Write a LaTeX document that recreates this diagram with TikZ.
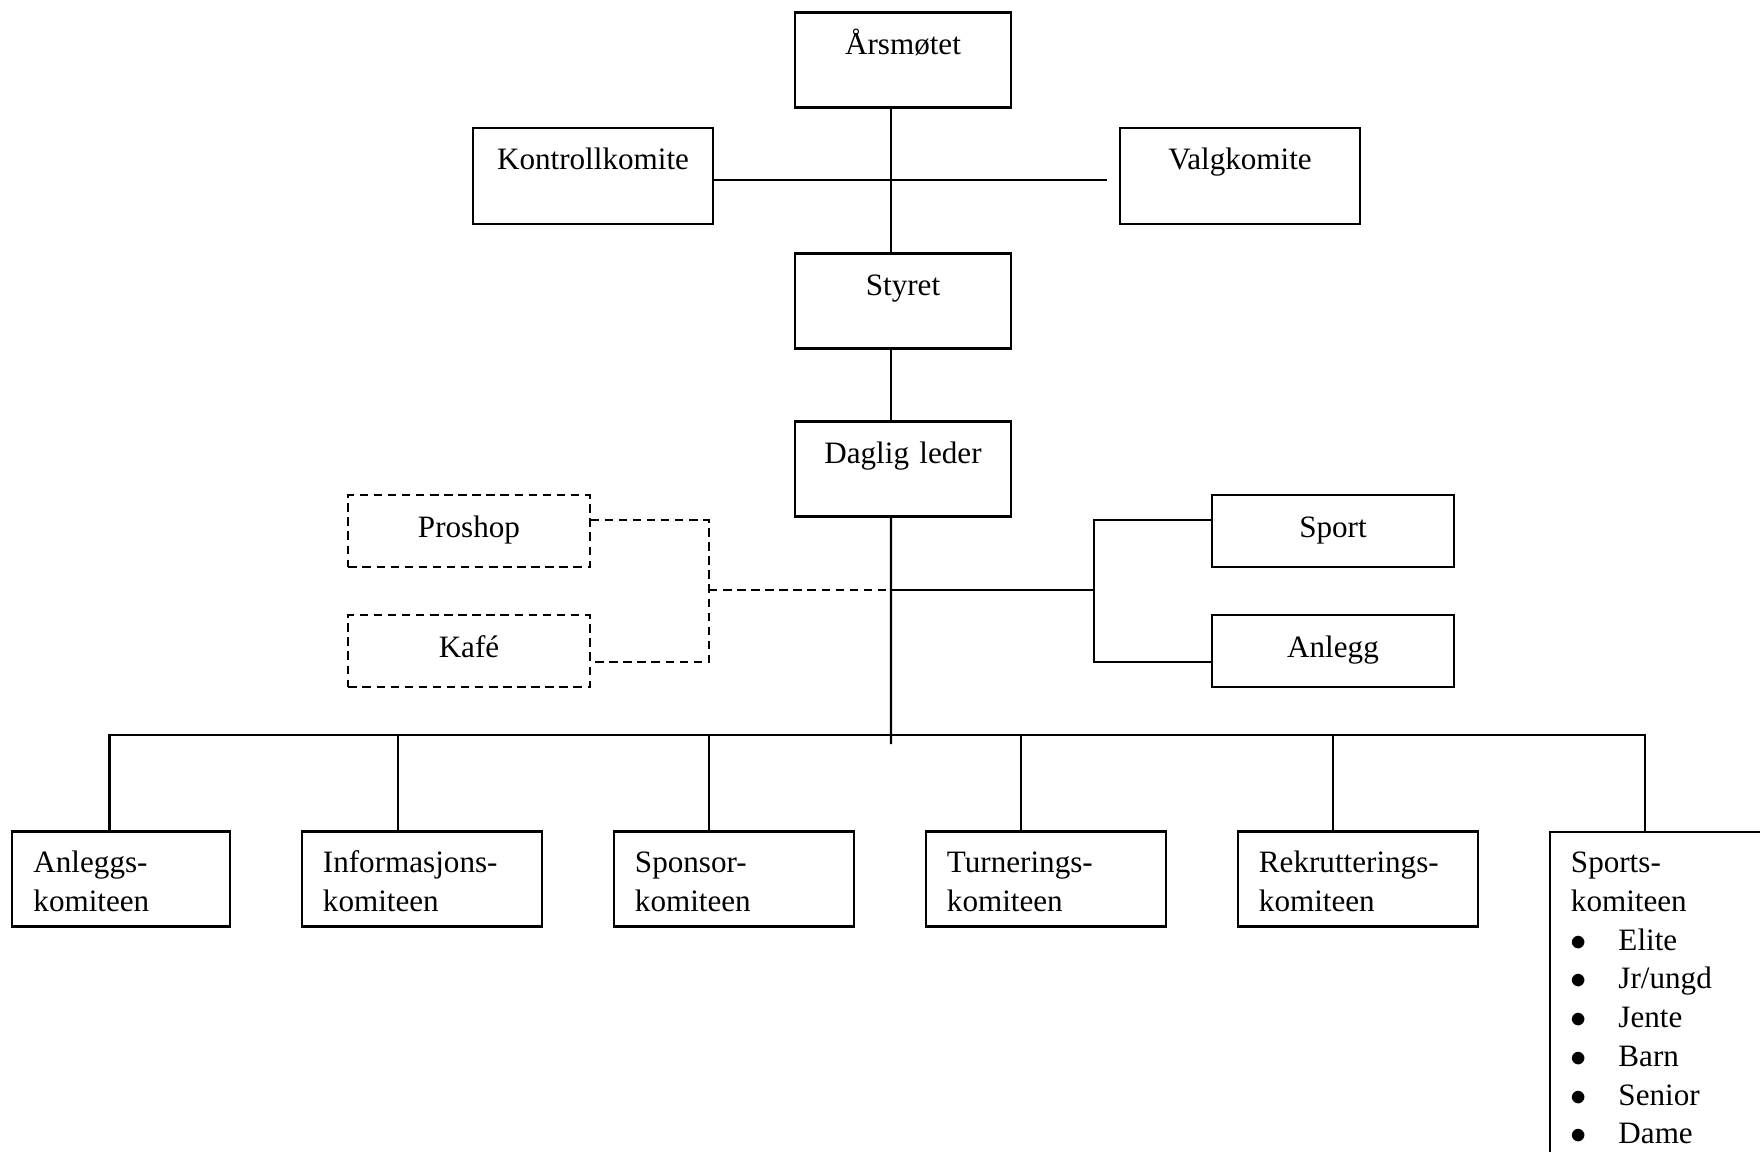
\documentclass[tikz,border=0pt]{standalone}
\usepackage{fontspec}
\setmainfont{Liberation Serif}
\usepackage{tikz}
\tikzset{box/.style={draw, rectangle, inner xsep=0.21cm, inner ysep=0pt, text height=0.42cm,
        align=center, font=\fontsize{8.85}{11}\selectfont},
    boxA/.style={box, text width=1.74cm, text depth=0.53cm},
    boxB/.style={box, text width=1.98cm, text depth=0.54cm},
    boxC/.style={box, text width=1.99cm, text depth=0.30cm},
    extra/.style={boxC, dash pattern=on 2.4pt off 1.6pt},
    komite/.style={box, align=left, text width=1.98cm, text height=0.41cm, text depth=0.54cm}}

\begin{document}
\begin{tikzpicture}[x=0.01cm, y=-0.01cm, line width=0.6pt]
    \useasboundingbox (0,0) rectangle (1760,1152);
    \clip (0,0) rectangle (1760,1152);
    
    \node [boxA] (aars) at (903,60) {Årsmøtet};
    \node [boxB] (kontroll) at (593,176) {Kontrollkomite};
    \node [boxB] (valg) at (1240,176) {Valgkomite};
    \node [boxA] (styret) at (903,301) {Styret};
    \node [boxA] (daglig) at (903,469) {Daglig leder};
    
    \node [extra] (proshop) at (469,531) {Proshop};
    \node [extra] (kafe) at (469,651) {Kafé};
    \node [boxC] (sport) at (1333,531) {Sport};
    \node [boxC] (anlegg) at (1333,651) {Anlegg};
    
    \node [komite, text width=1.75cm] (anl) at (121,879) {Anleggs-\\komiteen};
    \node [komite] (inf) at (422,879) {Informasjons-\\komiteen};
    \node [komite] (spo) at (734,879) {Sponsor-\\komiteen};
    \node [komite] (tur) at (1046,879) {Turnerings-\\komiteen};
    \node [komite] (rek) at (1358,879) {Rekrutterings-\\komiteen};
    \node [komite, text depth=3.79cm] (spk) at (1670,1042) {Sports-\\komiteen\\
        \makebox[0.475cm][l]{$\bullet$}Elite\\
        \makebox[0.475cm][l]{$\bullet$}Jr/ungd\\
        \makebox[0.475cm][l]{$\bullet$}Jente\\
        \makebox[0.475cm][l]{$\bullet$}Barn\\
        \makebox[0.475cm][l]{$\bullet$}Senior\\
        \makebox[0.475cm][l]{$\bullet$}Dame};
    
    \coordinate (split) at (891,590);
    \coordinate (brR) at (1094,590);
    \coordinate (brL) at (709,590);
    \coordinate (bus) at (891,735);
    \coordinate (trunkend) at (891,744);
    
    % main line
    \draw ([xshift=-0.12cm]aars.south) -- ([xshift=-0.12cm]styret.north);
    \draw ([xshift=-0.12cm]styret.south) -- ([xshift=-0.12cm]daglig.north);
    \draw ([xshift=-0.12cm]daglig.south) -- (trunkend);
    \draw ([yshift=-0.04cm]kontroll.east) -- ([xshift=-0.12cm,yshift=-0.04cm]valg.west);
    
    % side units
    \draw ([yshift=0.11cm]sport.west) -| (brR) |- ([yshift=-0.11cm]anlegg.west);
    \draw (split) -- (brR);
    \draw [dash pattern=on 2.4pt off 1.6pt] ([yshift=0.11cm]proshop.east) -| (brL) |- ([yshift=-0.11cm]kafe.east);
    \draw [dash pattern=on 2.4pt off 1.6pt] (brL) -- (split);
    
    % committees
    \foreach \n/\dx in {anl/-0.115, inf/-0.24, spo/-0.25, tur/-0.25, rek/-0.25, spk/-0.25}
        \draw ([xshift=\dx cm]\n.north) |- (bus);
    
\end{tikzpicture}
\end{document}
